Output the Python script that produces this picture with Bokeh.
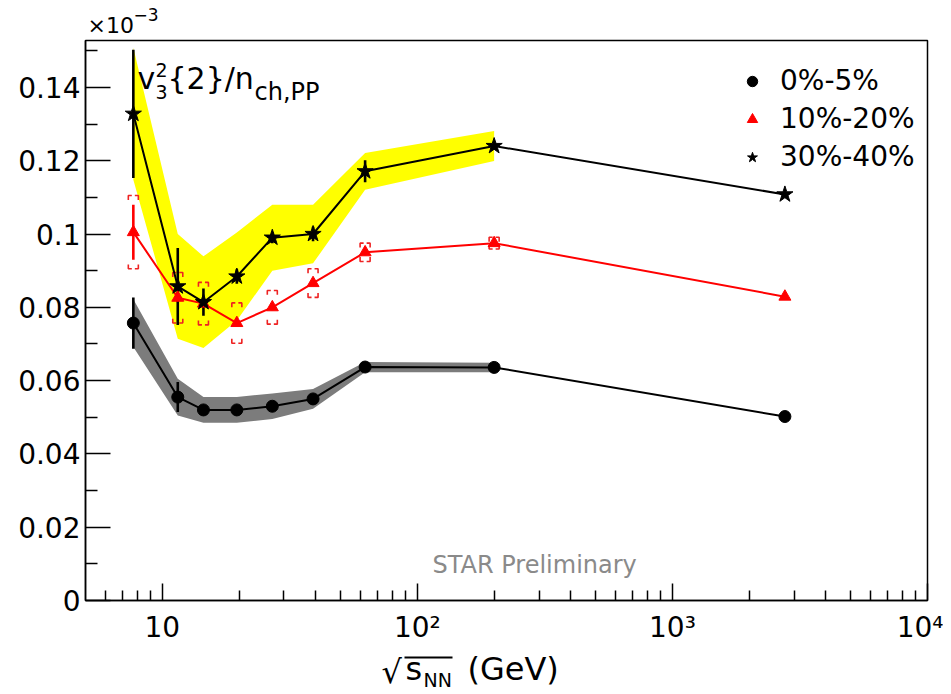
import numpy as np
from bokeh.plotting import figure
from bokeh.layouts import column
from bokeh.models import (Range1d, FixedTicker, Label, Legend, LegendItem,
                          ColumnDataSource)
from bokeh.embed import file_html
from bokeh.resources import INLINE

# ---------------- data (in units of 1e-3) ----
energies = [7.7, 11.5, 14.5, 19.6, 27.0, 39.0, 62.4, 200.0, 2760.0]
band_energies = [7.7, 11.5, 14.5, 19.6, 27.0, 39.0, 62.4, 200.0]

cent_0_5 = [0.0757, 0.0555, 0.0520, 0.0520, 0.0530, 0.0550, 0.0637, 0.0636, 0.0502]
stat_0_5 = [0.0070, 0.0041, 0.0010, 0.0006, 0.0006, 0.0006, 0.0007, 0.0004, 0.0003]
sys_0_5 = [0.0065, 0.0050, 0.0035, 0.0035, 0.0035, 0.0027, 0.0014, 0.0013]

cent_10_20 = [0.1005, 0.0826, 0.0810, 0.0757, 0.0800, 0.0866, 0.0950, 0.0975, 0.0829]
stat_10_20 = [0.0075, 0.0012, 0.0010, 0.0008, 0.0008, 0.0008, 0.0008, 0.0005, 0.0003]
sys_10_20 = [0.0100, 0.0069, 0.0058, 0.0055, 0.0046, 0.0039, 0.0025, 0.0016]

cent_30_40 = [0.1328, 0.0857, 0.0814, 0.0884, 0.0990, 0.1000, 0.1171, 0.1240, 0.1108]
stat_30_40 = [0.0175, 0.0105, 0.0037, 0.0020, 0.0015, 0.0020, 0.0030, 0.0010, 0.0005]
sys_30_40 = [0.0180, 0.0143, 0.0125, 0.0120, 0.0090, 0.0080, 0.0050, 0.0041]

series_labels = ["0%-5%", "10%-20%", "30%-40%"]

x_ticks = [10, 100, 1000, 10000]
x_tick_labels = ["10", "10\u00b2", "10\u00b3", "10\u2074"]
x_minor = [6, 7, 8, 9, 20, 30, 40, 50, 60, 70, 80, 90,
           200, 300, 400, 500, 600, 700, 800, 900,
           2000, 3000, 4000, 5000, 6000, 7000, 8000, 9000]
y_ticks = [0, 0.02, 0.04, 0.06, 0.08, 0.1, 0.12, 0.14]
y_tick_labels = ["0", "0.02", "0.04", "0.06", "0.08", "0.1", "0.12", "0.14"]
y_minor = [0.01, 0.03, 0.05, 0.07, 0.09, 0.11, 0.13, 0.15]

FONT = "DejaVu Sans"
W = 943
TOP_H, MAIN_H, BOT_H = 39, 607, 46     # stacked: 0-39, 39-646, 646-692
FRAME_L, FRAME_R, FRAME_T, FRAME_B = 85, 927, 40, 600
MID = 0.346   # em-box middle above the baseline (DejaVu Sans)


def blank(h):
    f = figure(width=W, height=h, x_range=Range1d(FRAME_L, FRAME_R),
               y_range=Range1d(0, h),
               x_axis_location=None, y_axis_location=None,
               output_backend="svg", toolbar_location=None,
               min_border=0, min_border_left=FRAME_L, min_border_right=W - FRAME_R,
               min_border_top=0, min_border_bottom=0,
               outline_line_color=None)
    f.grid.visible = False
    return f


# ---------------- main figure ----------------
p = figure(width=W, height=MAIN_H, x_axis_type="log",
           x_range=Range1d(5, 10000), y_range=Range1d(0, 0.1528),
           output_backend="svg", toolbar_location=None,
           min_border_left=FRAME_L, min_border_right=W - FRAME_R,
           min_border_top=FRAME_T - TOP_H,
           min_border_bottom=TOP_H + MAIN_H - FRAME_B)
p.grid.visible = False
p.outline_line_color = "black"
p.outline_line_width = 1.5

p.xaxis.ticker = FixedTicker(ticks=x_ticks, minor_ticks=x_minor)
p.xaxis.major_label_overrides = dict(zip(x_ticks, x_tick_labels))
p.yaxis.ticker = FixedTicker(ticks=y_ticks, minor_ticks=y_minor)
p.yaxis.major_label_overrides = dict(zip(y_ticks, y_tick_labels))
for ax in (p.xaxis, p.yaxis):
    ax.axis_line_color = "black"
    ax.axis_line_width = 1.5
    ax.major_tick_line_color = "black"
    ax.minor_tick_line_color = "black"
    ax.major_tick_line_width = 1.5
    ax.minor_tick_line_width = 1.5
    ax.major_tick_out = 0
    ax.minor_tick_out = 0
    ax.major_label_text_font = FONT
    ax.major_label_text_font_size = "28px"
    ax.major_label_text_color = "black"
p.xaxis.major_tick_in = 17
p.xaxis.minor_tick_in = 10
p.xaxis.major_label_standoff = 10
p.yaxis.major_tick_in = 25
p.yaxis.minor_tick_in = 12
p.yaxis.major_label_standoff = 5


def band(cent, sys):
    n = len(sys)
    hi = [c + s for c, s in zip(cent[:n], sys)]
    lo = [c - s for c, s in zip(cent[:n], sys)]
    return band_energies + band_energies[::-1], hi + lo[::-1]


bx, by = band(cent_30_40, sys_30_40)
p.patch(bx, by, fill_color="#ffff00", line_color=None)
bx, by = band(cent_0_5, sys_0_5)
p.patch(bx, by, fill_color="#7c7c7c", line_color=None)

# red brackets (systematics of 10-20%)
f_out = 10 ** (5 / 254.5)
f_in = 10 ** (1.5 / 254.5)
tip = 0.0012
bxs, bys = [], []
for e, c, s in zip(band_energies, cent_10_20, sys_10_20):
    top, bot = c + s, c - s
    bxs += [[e / f_out, e / f_out, e / f_in], [e * f_in, e * f_out, e * f_out],
            [e / f_out, e / f_out, e / f_in], [e * f_in, e * f_out, e * f_out]]
    bys += [[top - tip, top, top], [top, top, top - tip],
            [bot + tip, bot, bot], [bot, bot, bot + tip]]
p.multi_line(bxs, bys, line_color="#ee2222", line_width=1.6)

p.line(energies, cent_0_5, line_color="black", line_width=2)
p.line(energies, cent_10_20, line_color="#ff0000", line_width=2)
p.line(energies, cent_30_40, line_color="black", line_width=2)


def err_src(cent, stat):
    return ColumnDataSource(dict(x=energies,
                                 lo=[c - s for c, s in zip(cent, stat)],
                                 hi=[c + s for c, s in zip(cent, stat)]))


p.segment(x0="x", y0="lo", x1="x", y1="hi", source=err_src(cent_0_5, stat_0_5),
          line_color="black", line_width=2.6)
p.segment(x0="x", y0="lo", x1="x", y1="hi", source=err_src(cent_10_20, stat_10_20),
          line_color="#ff0000", line_width=2.6)
p.segment(x0="x", y0="lo", x1="x", y1="hi", source=err_src(cent_30_40, stat_30_40),
          line_color="black", line_width=2.6)

r0 = p.scatter(energies, cent_0_5, marker="circle", size=12,
               fill_color="black", line_color="black")
r1 = p.scatter(energies, cent_10_20, marker="triangle", size=12,
               fill_color="#ff0000", line_color="#ff0000")
r2 = p.scatter(energies, cent_30_40, marker="star", size=17,
               fill_color="black", line_color="black")

legend = Legend(items=[LegendItem(label=series_labels[0], renderers=[r0]),
                       LegendItem(label=series_labels[1], renderers=[r1]),
                       LegendItem(label=series_labels[2], renderers=[r2])],
                location=(654, 427), label_text_font=FONT,
                label_text_font_size="28px", label_text_color="black",
                glyph_width=26, glyph_height=32, label_height=32,
                label_standoff=15, spacing=5, padding=0, margin=0,
                border_line_alpha=0, background_fill_alpha=0)
p.add_layout(legend)


def label(fig, s, px, py, size, y_bottom, color="black"):
    # px, py: picture position of the text's left end / baseline;
    # y_bottom: picture y of the figure frame's bottom edge
    mid = py - MID * size
    fig.add_layout(Label(x=px - FRAME_L, y=y_bottom - mid,
                         x_units="screen", y_units="screen",
                         text=s, text_font=FONT, text_font_size=f"{size}px",
                         text_color=color, text_baseline="middle",
                         text_align="left"))


label(p, "v", 137, 88, 30, FRAME_B)
label(p, "2", 155, 76, 19, FRAME_B)
label(p, "3", 155, 98, 19, FRAME_B)
label(p, "{2}/n", 167, 88, 30, FRAME_B)
label(p, "ch,PP", 254, 100, 24, FRAME_B)
label(p, "STAR Preliminary", 432, 573, 24, FRAME_B, color="#8a8a8a")

# ---------------- top strip: x10^-3 ----------------
top = blank(TOP_H)
label(top, "\u00d710", 87, 33, 22, TOP_H)
label(top, "\u22123", 133, 20, 17, TOP_H)

# ---------------- bottom strip: sqrt(s_NN) (GeV) ----------------
bot = blank(BOT_H)
Y_BOT = TOP_H + MAIN_H + BOT_H
label(bot, "\u221a", 381, 683, 32, Y_BOT)
label(bot, "s", 405, 680, 32, Y_BOT)
label(bot, "NN", 423, 686, 19, Y_BOT)
label(bot, "(GeV)", 467, 680, 32, Y_BOT)
bot.line(x=[404, 452], y=[Y_BOT - 657, Y_BOT - 657], line_color="black", line_width=2)

layout = column(top, p, bot, spacing=0)
open("out.html", "w").write(file_html(layout, INLINE))
